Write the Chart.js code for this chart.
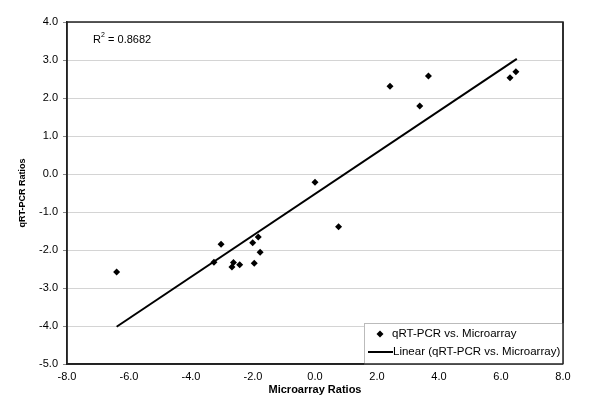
<!DOCTYPE html>
<html>
<head>
<meta charset="utf-8">
<script src="https://cdn.jsdelivr.net/npm/chart.js@4/dist/chart.umd.min.js"></script>
<style>
  body { margin: 0; background: #fff; }
  #wrap { width: 600px; height: 419px; }
</style>
</head>
<body>
<div id="wrap"><canvas id="chart" width="600" height="419"></canvas></div>
<script>
// data
const microX = [-6.40, -3.03, -3.26, -2.63, -2.68, -2.43, -2.01, -1.83, -1.77, -1.96, 0.00, 0.76, 2.42, 3.66, 3.38, 6.29, 6.48];
const qpcrY = [-2.58, -1.85, -2.32, -2.33, -2.45, -2.39, -1.81, -1.66, -2.06, -2.35, -0.22, -1.39, 2.31, 2.58, 1.79, 2.53, 2.69];
const trendX = [-6.40, 6.51];
const trendY = [-4.02, 3.03];
const seriesNames = ['qRT-PCR vs. Microarray', 'Linear (qRT-PCR vs. Microarray)'];
const xTitle = 'Microarray Ratios';
const yTitle = 'qRT-PCR Ratios';

const FONT = '"Liberation Sans", Arial, sans-serif';

// plugin: bingkai, label R², kotak legend
const extras = {
  id: 'extras',
  afterDraw(chart) {
    const c = chart.ctx;
    const a = chart.chartArea;
    c.save();
    // bingkai
    c.strokeStyle = '#222';
    c.lineWidth = 1.5;
    c.strokeRect(a.left, a.top, a.right - a.left, a.bottom - a.top);
    // R^2
    c.fillStyle = '#000';
    c.font = '11px ' + FONT;
    c.textBaseline = 'alphabetic';
    c.fillText('R', 93, 43);
    c.font = '7px ' + FONT;
    c.fillText('2', 101, 37);
    c.font = '11px ' + FONT;
    c.fillText(' = 0.8682', 105, 43);
    // legend
    const lx = 364, ly = 323, lw = a.right - lx, lh = a.bottom - ly;
    c.fillStyle = '#fff';
    c.fillRect(lx, ly, lw, lh);
    c.strokeStyle = '#bbb';
    c.lineWidth = 1;
    c.strokeRect(lx + 0.5, ly + 0.5, lw, lh);
    c.fillStyle = '#000';
    const dx = 380, dy = 334;
    c.beginPath();
    c.moveTo(dx, dy - 3.5); c.lineTo(dx + 3.5, dy); c.lineTo(dx, dy + 3.5); c.lineTo(dx - 3.5, dy);
    c.closePath(); c.fill();
    c.font = '11.5px ' + FONT;
    c.textBaseline = 'middle';
    c.fillText(seriesNames[0], 392, 334);
    c.strokeStyle = '#000';
    c.lineWidth = 2;
    c.beginPath(); c.moveTo(368, 352); c.lineTo(393, 352); c.stroke();
    c.fillText(seriesNames[1], 393, 352);
    // garis bawah legend ditimpa sumbu lagi
    c.strokeStyle = '#222';
    c.lineWidth = 1.5;
    c.beginPath(); c.moveTo(a.left, a.bottom); c.lineTo(a.right, a.bottom); c.stroke();
    c.beginPath(); c.moveTo(a.right, a.top); c.lineTo(a.right, a.bottom); c.stroke();
    c.restore();
  }
};

const ctx = document.getElementById('chart').getContext('2d');
const chart = new Chart(ctx, {
  type: 'scatter',
  data: {
    datasets: [{
      label: seriesNames[0],
      data: microX.map((x, i) => ({ x: x, y: qpcrY[i] })),
      pointStyle: 'rectRot',
      pointRadius: 3.5,
      backgroundColor: '#000',
      borderColor: '#000',
      borderWidth: 0
    }, {
      label: seriesNames[1],
      type: 'line',
      data: trendX.map((x, i) => ({ x: x, y: trendY[i] })),
      borderColor: '#000',
      borderWidth: 2,
      pointRadius: 0,
      fill: false
    }]
  },
  options: {
    responsive: false,
    animation: false,
    layout: { padding: { top: 22, right: 37, left: 0, bottom: 0 } },
    plugins: { legend: { display: false }, tooltip: { enabled: false } },
    scales: {
      x: {
        type: 'linear', min: -8, max: 8,
        ticks: { stepSize: 2, color: '#000', font: { family: FONT, size: 11 }, padding: 2,
          callback: v => v.toFixed(1) },
        grid: { display: false, drawTicks: true, tickLength: 4 },
        border: { color: '#222', width: 1.5 },
        title: { display: true, text: xTitle, color: '#000', font: { family: FONT, size: 11, weight: 'bold' }, padding: { top: 0, bottom: 22 } },
        afterFit(s) { s.height = 419 - 364; }
      },
      y: {
        type: 'linear', min: -5, max: 4,
        ticks: { stepSize: 1, color: '#000', font: { family: FONT, size: 11 }, padding: 5,
          callback: v => v.toFixed(1) },
        grid: { color: '#d4d4d4', lineWidth: 1, tickLength: 4, tickColor: '#888' },
        border: { color: '#222', width: 1.5 },
        title: { display: true, text: yTitle, color: '#000', font: { family: FONT, size: 9, weight: 'bold' }, padding: { top: 17, bottom: 0 } },
        afterFit(s) { s.width = 67; }
      }
    }
  },
  plugins: [extras]
});
</script>
</body>
</html>
